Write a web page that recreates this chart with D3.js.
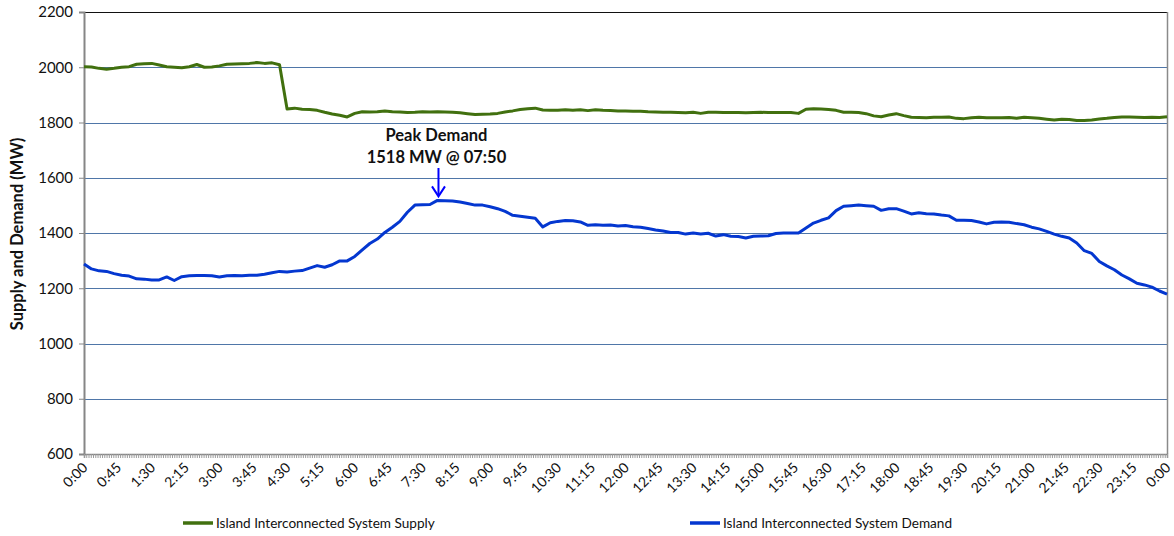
<!DOCTYPE html>
<html><head><meta charset="utf-8">
<script src="https://cdn.jsdelivr.net/npm/d3@7"></script>
<style>
html,body{margin:0;padding:0;background:#fff;}
svg{display:block;font-family:Lato,"Liberation Sans",sans-serif;}
</style></head>
<body><svg id="c" width="1174" height="536"></svg>
<script>
// Time step of the series (minutes) and the x tick labels (every 45 min)
const stepMinutes = 10;
const tickLabels = ["0:00","0:45","1:30","2:15","3:00","3:45","4:30","5:15","6:00","6:45","7:30","8:15","9:00","9:45","10:30","11:15","12:00","12:45","13:30","14:15","15:00","15:45","16:30","17:15","18:00","18:45","19:30","20:15","21:00","21:45","22:30","23:15","0:00"];
const yTicks = [600,800,1000,1200,1400,1600,1800,2000,2200];
const seriesNames = ["Island Interconnected System Supply","Island Interconnected System Demand"];

// Supply (MW) every 10 minutes, 0:00 .. 24:00
const supply = [
 2002,2001,1996,1993,1996,2000,
 2002,2011,2013,2014,2008,2002,
 2000,1998,2002,2010,2000,2001,
 2005,2011,2012,2013,2014,2017,
 2014,2016,2009,1849,1852,1848,
 1847,1844,1837,1831,1826,1820,
 1833,1839,1838,1839,1842,1839,
 1838,1836,1837,1839,1838,1839,
 1838,1837,1835,1832,1829,1830,
 1831,1833,1838,1842,1847,1850,
 1852,1845,1844,1844,1846,1844,
 1846,1843,1846,1844,1843,1842,
 1842,1841,1841,1839,1838,1837,
 1837,1836,1835,1837,1833,1837,
 1837,1836,1836,1836,1835,1836,
 1837,1836,1836,1836,1836,1833,
 1848,1850,1849,1847,1844,1837,
 1837,1836,1832,1824,1821,1827,
 1832,1825,1819,1818,1817,1819,
 1819,1820,1815,1814,1817,1819,
 1817,1817,1817,1818,1815,1819,
 1817,1815,1812,1809,1812,1811,
 1807,1807,1809,1813,1815,1818,
 1820,1820,1819,1818,1819,1818,
 1821];

// Demand (MW) every 10 minutes, 0:00 .. 24:00
const demand = [
 1288,1270,1263,1261,1253,1247,
 1244,1234,1233,1230,1230,1241,
 1228,1242,1245,1246,1246,1245,
 1241,1245,1246,1245,1247,1247,
 1251,1256,1261,1259,1262,1264,
 1273,1282,1276,1285,1299,1299,
 1315,1339,1362,1378,1402,1421,
 1442,1475,1501,1502,1503,1518,
 1517,1516,1512,1507,1501,1501,
 1495,1488,1478,1464,1461,1457,
 1453,1422,1437,1442,1445,1444,
 1440,1428,1430,1428,1429,1425,
 1427,1423,1421,1416,1411,1407,
 1402,1402,1396,1400,1396,1399,
 1389,1394,1388,1387,1382,1388,
 1389,1390,1398,1400,1400,1400,
 1418,1436,1446,1455,1481,1497,
 1499,1501,1499,1497,1482,1488,
 1488,1479,1469,1473,1470,1469,
 1465,1462,1446,1446,1445,1440,
 1433,1439,1440,1439,1434,1430,
 1421,1415,1406,1396,1388,1382,
 1364,1336,1326,1297,1281,1267,
 1248,1234,1218,1212,1204,1190,
 1179];

const peakLabel = ["Peak Demand","1518 MW @ 07:50"];
const peakTime = 470, peakValue = 1518;

const svg = d3.select("#c");
const m = {l:84, r:1167, t:12, b:454};
const x = d3.scaleLinear().domain([0,1440]).range([m.l, m.r]);
const y = d3.scaleLinear().domain([600,2200]).range([m.b, m.t]);

// gridlines
svg.append("g").selectAll("line").data(yTicks.filter(v=>v>600&&v<2200)).join("line")
  .attr("x1",m.l).attr("x2",m.r).attr("y1",d=>Math.round(y(d))+0.5).attr("y2",d=>Math.round(y(d))+0.5)
  .attr("stroke","#4f76a8").attr("stroke-width",1);
// top border
svg.append("line").attr("x1",m.l).attr("x2",m.r+1).attr("y1",Math.round(y(2200))+0.5).attr("y2",Math.round(y(2200))+0.5)
  .attr("stroke","#111").attr("stroke-width",1);
// right border
svg.append("line").attr("x1",m.r+0.5).attr("x2",m.r+0.5).attr("y1",m.t).attr("y2",m.b)
  .attr("stroke","#8a8a8a").attr("stroke-width",1.5);

// y axis
const yAxis = d3.axisLeft(y).tickValues(yTicks).tickSize(5).tickPadding(6).tickFormat(d3.format("d"));
const gy = svg.append("g").attr("transform",`translate(${m.l},0)`).call(yAxis);
gy.select(".domain").attr("stroke","#868686").attr("stroke-width",2);
gy.selectAll(".tick line").attr("stroke","#868686");
gy.selectAll("text").attr("font-size",15).attr("fill","#111").attr("font-family","Lato");

// x axis: minor ticks every 3 minutes, labels every 45 minutes
const xAxis = d3.axisBottom(x).tickValues(d3.range(0,1441,3)).tickSize(4).tickFormat("");
const gx = svg.append("g").attr("transform",`translate(0,${m.b})`).call(xAxis);
gx.select(".domain").attr("stroke","#868686").attr("stroke-width",1.5);
gx.selectAll(".tick line").attr("stroke","#9a9a9a");
svg.append("g").selectAll("text").data(tickLabels).join("text")
  .attr("transform",(d,i)=>`translate(${x(i*45)+1},${m.b+11}) rotate(-45)`)
  .attr("text-anchor","end").attr("dy","0.35em")
  .attr("font-size",14).attr("fill","#111").text(d=>d);

// y title
svg.append("text").attr("transform",`translate(23,${(m.t+m.b)/2+1}) rotate(-90)`)
  .attr("text-anchor","middle").attr("font-weight","bold").attr("font-size",16.5).attr("fill","#111")
  .text("Supply and Demand (MW)");

// lines
const line = d3.line().x((d,i)=>x(i*stepMinutes)).y(d=>y(d)).curve(d3.curveLinear);
svg.append("path").datum(supply).attr("d",line).attr("fill","none")
  .attr("stroke","#41700f").attr("stroke-width",3).attr("stroke-linejoin","round");
svg.append("path").datum(demand).attr("d",line).attr("fill","none")
  .attr("stroke","#0437d0").attr("stroke-width",3).attr("stroke-linejoin","round");

// annotation
const ax = x(peakTime)+1;
svg.append("text").attr("x",ax-2).attr("y",141).attr("text-anchor","middle")
  .attr("font-weight","bold").attr("font-size",16.5).attr("fill","#111").text(peakLabel[0]);
svg.append("text").attr("x",ax-2).attr("y",163).attr("text-anchor","middle")
  .attr("font-weight","bold").attr("font-size",16.5).attr("fill","#111").text(peakLabel[1]);
const tipY = y(peakValue)-4;
svg.append("line").attr("x1",ax).attr("x2",ax).attr("y1",168).attr("y2",tipY-1)
  .attr("stroke","#0000ff").attr("stroke-width",2);
svg.append("path").attr("d",`M${ax-6.5},${tipY-10} L${ax},${tipY} L${ax+6.5},${tipY-10}`)
  .attr("fill","none").attr("stroke","#0000ff").attr("stroke-width",2);

// legend
const legend = [{name:seriesNames[0],color:"#41700f",x:183},{name:seriesNames[1],color:"#0437d0",x:690}];
const lg = svg.append("g").selectAll("g").data(legend).join("g");
lg.append("line").attr("x1",d=>d.x).attr("x2",d=>d.x+30).attr("y1",523).attr("y2",523)
  .attr("stroke",d=>d.color).attr("stroke-width",3.5);
lg.append("text").attr("x",d=>d.x+33).attr("y",523).attr("dy","0.35em")
  .attr("font-size",13.6).attr("fill","#111").text(d=>d.name);
</script></body></html>
